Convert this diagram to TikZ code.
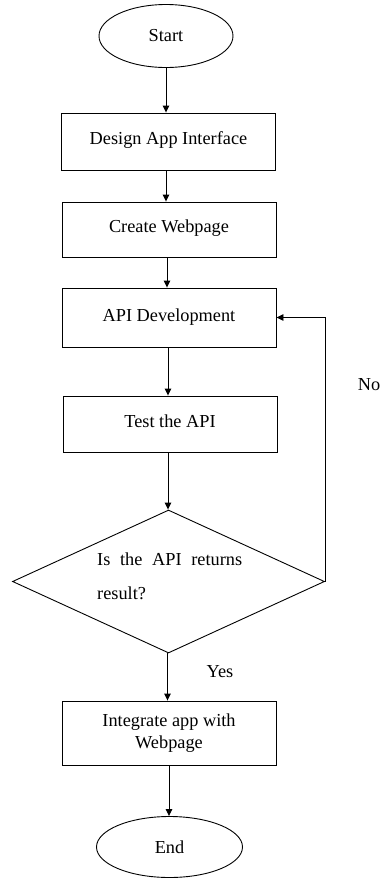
\documentclass[tikz,border=0pt]{standalone}
\usepackage{fontspec}
\setmainfont{Liberation Serif}
\usetikzlibrary{arrows.meta,shapes.geometric}
\begin{document}
\begin{tikzpicture}[x=1pt,y=-1pt,
  every node/.style={font=\fontsize{18.3}{22}\selectfont},
  terminal/.style={draw, line width=0.9pt, ellipse, inner sep=0pt},
  procbox/.style={draw, line width=0.9pt, rectangle, minimum width=214pt, inner sep=0pt, align=center},
  decision/.style={draw, line width=0.9pt, diamond, minimum width=312pt, minimum height=143pt, inner sep=0pt},
  flow/.style={line width=0.9pt, -{Triangle[width=6.5pt,length=7pt]}},
  plain/.style={inner sep=0pt}
]
\useasboundingbox (0,0) rectangle (380,879);
\fill[white] (0,0) rectangle (380,879);

\node[terminal, minimum width=134pt, minimum height=63pt] (start) at (166,36) {Start};
\node[procbox, minimum height=57pt] (design) at (168.5,141.5) {\raisebox{6pt}{Design App Interface}};
\node[procbox, minimum height=55pt] (create) at (169,229.5) {\raisebox{6pt}{Create Webpage}};
\node[procbox, minimum height=59pt] (api) at (169,317.5) {\raisebox{4pt}{API Development}};
\node[procbox, minimum height=56pt] (test) at (170,424) {\raisebox{6pt}{Test the API}};
\node[decision] (dec) at (168.5,581.5) {};
\node[plain, anchor=north west, align=left, font=\fontsize{18.3}{34}\selectfont] (dectext) at (97,552.5)
  {\makebox[145pt][s]{Is the API returns}\\result?};
\node[procbox, minimum height=64pt] (integ) at (169,733) {Integrate app with\\Webpage};
\node[terminal, minimum width=146pt, minimum height=61pt] (end) at (169.5,847) {End};

\node[plain] (nolabel) at (369,385) {No};
\node[plain] (yeslabel) at (220,672) {Yes};

\draw[flow] (start.south) -- (start.south |- design.north);
\draw[flow] (start.south |- design.south) -- (start.south |- create.north);
\draw[flow] ([xshift=-2pt]create.south) coordinate (c1) -- (c1 |- api.north);
\draw[flow] ([xshift=-1pt]api.south) coordinate (c2) -- (c2 |- test.north);
\draw[flow] ([xshift=-2pt]test.south) coordinate (c3) -- (c3 |- dec.north);
\draw[flow] ([xshift=-1pt]dec.south) coordinate (c4) -- (c4 |- integ.north);
\draw[flow] (integ.south) -- (integ.south |- end.north);
\draw[flow] (dec.east) |- (api.east);
\end{tikzpicture}
\end{document}
